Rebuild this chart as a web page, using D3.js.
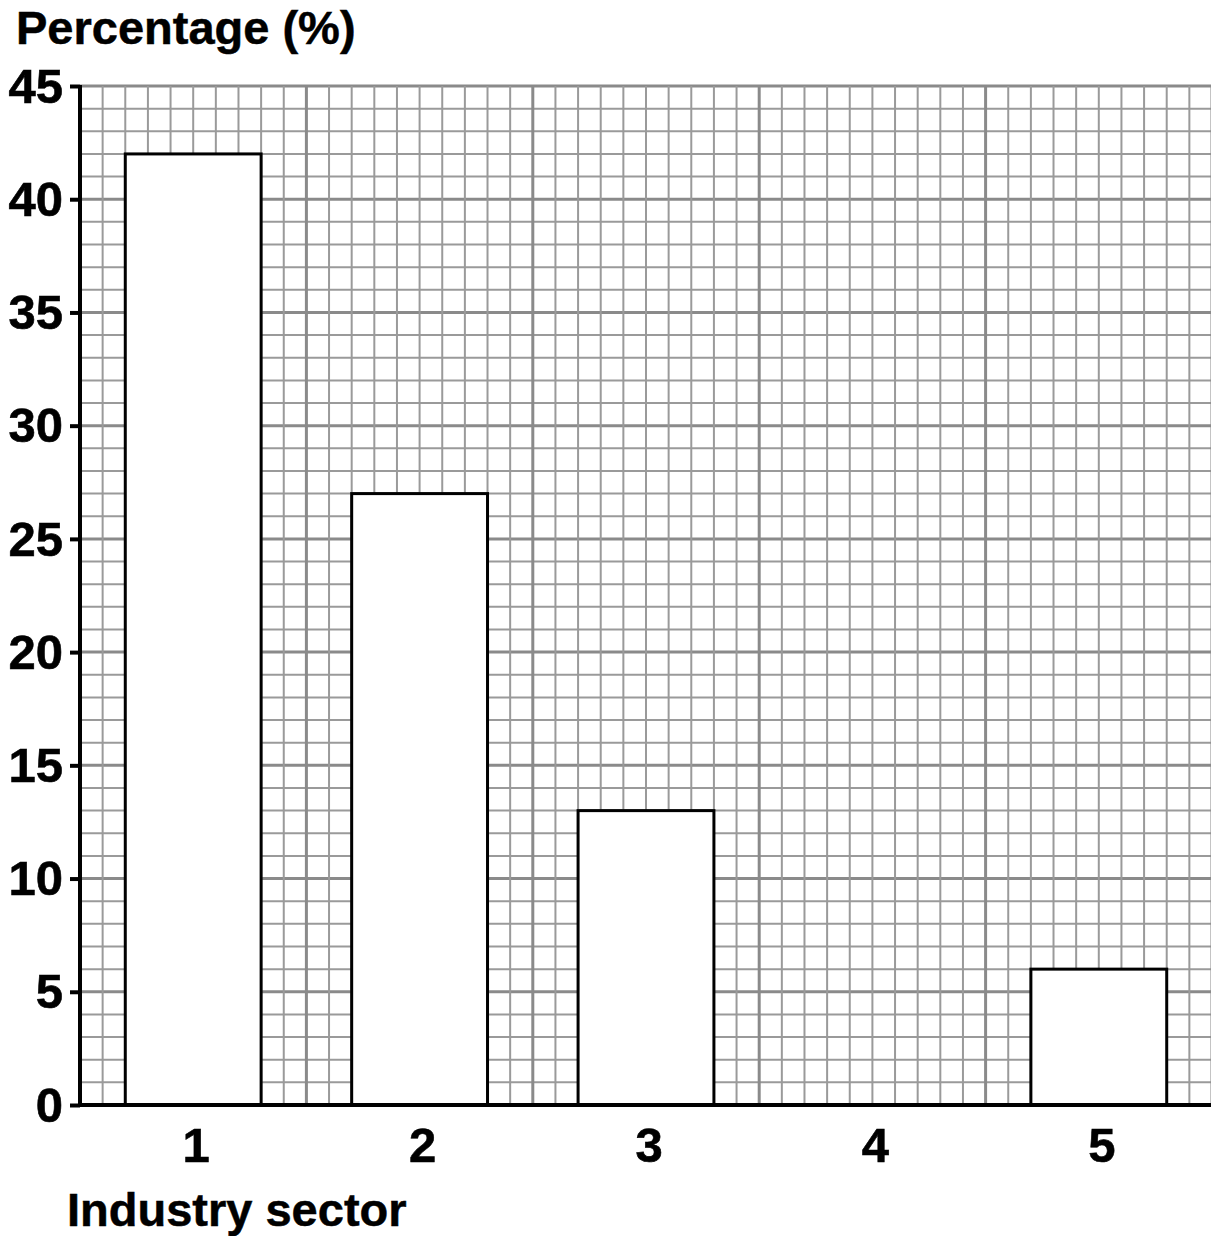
<!DOCTYPE html>
<html>
<head>
<meta charset="utf-8">
<script src="https://cdn.jsdelivr.net/npm/d3@7"></script>
<style>
  html, body { margin: 0; padding: 0; background: #fff; }
  svg { display: block; }
  text { font-family: "Liberation Sans", Arial, Helvetica, sans-serif; font-weight: bold; fill: #000; }
</style>
</head>
<body>
<div id="chart"></div>
<script>
const categories = ["1", "2", "3", "4", "5"];
const values = [42, 27, 13, 0, 6];
const yTickValues = [0, 5, 10, 15, 20, 25, 30, 35, 40, 45];
const yTitle = "Percentage (%)";
const xTitle = "Industry sector";

(function () {
const W = 1211, H = 1236;
const mLeft = 80, mRight = 1212, mTop = 86, mBottom = 1105;

const svg = d3.select("#chart").append("svg").attr("width", W).attr("height", H);

const y = d3.scaleLinear().domain([0, 45]).range([mBottom, mTop]);
const x = d3.scaleBand().domain(categories).range([mLeft, mRight]).paddingInner(0.4).paddingOuter(0.2);
const xg = d3.scaleLinear().domain([0, categories.length]).range([mLeft, mRight]);

// grid
const g = svg.append("g");
const minorY = d3.range(0, 46, 1);
const minorX = d3.range(0, categories.length * 10 + 1).map(d => d / 10);

g.selectAll("line.hy").data(minorY).join("line")
  .attr("x1", mLeft).attr("x2", W)
  .attr("y1", d => y(d)).attr("y2", d => y(d))
  .attr("stroke", d => d % 5 === 0 ? "#8a8a8a" : "#9a9a9a")
  .attr("stroke-width", d => d % 5 === 0 ? 3 : 2);

g.selectAll("line.vx").data(minorX).join("line")
  .attr("x1", d => xg(d)).attr("x2", d => xg(d))
  .attr("y1", mTop).attr("y2", mBottom)
  .attr("stroke", (d, i) => i % 10 === 0 ? "#8a8a8a" : "#9a9a9a")
  .attr("stroke-width", (d, i) => i % 10 === 0 ? 3 : 2);

// bars
svg.selectAll("rect.bar").data(values).join("rect")
  .attr("x", (d, i) => x(categories[i]))
  .attr("width", x.bandwidth())
  .attr("y", d => y(d))
  .attr("height", d => y(0) - y(d))
  .attr("fill", "#fff")
  .attr("stroke", "#000")
  .attr("stroke-width", 3);

// y axis
const yAxis = svg.append("g").attr("transform", `translate(${mLeft},0)`)
  .call(d3.axisLeft(y).tickValues(yTickValues).tickSize(10).tickPadding(7));
yAxis.select(".domain").attr("stroke", "#000").attr("stroke-width", 4).attr("d", `M0,${mTop - 1}V${mBottom + 2}`);
yAxis.selectAll(".tick line").attr("stroke", "#000").attr("stroke-width", 4);
yAxis.selectAll(".tick text").attr("font-size", 49).attr("font-family", null).attr("dy", "0.33em")
  .attr("stroke", "#000").attr("stroke-width", 0.6);

// x axis
const xAxis = svg.append("g").attr("transform", `translate(0,${mBottom})`)
  .call(d3.axisBottom(x).tickSize(0).tickPadding(22));
xAxis.select(".domain").attr("stroke", "#000").attr("stroke-width", 4).attr("d", `M${mLeft},0H${W}`);
xAxis.selectAll(".tick text").attr("font-size", 49).attr("font-family", null).attr("dx", 3)
  .attr("stroke", "#000").attr("stroke-width", 0.6);

// titles
svg.append("text").attr("x", 16).attr("y", 44).attr("font-size", 47).text(yTitle)
  .attr("stroke", "#000").attr("stroke-width", 0.5);
svg.append("text").attr("x", 67).attr("y", 1226).attr("font-size", 47).text(xTitle)
  .attr("stroke", "#000").attr("stroke-width", 0.5);
})();
</script>
</body>
</html>
